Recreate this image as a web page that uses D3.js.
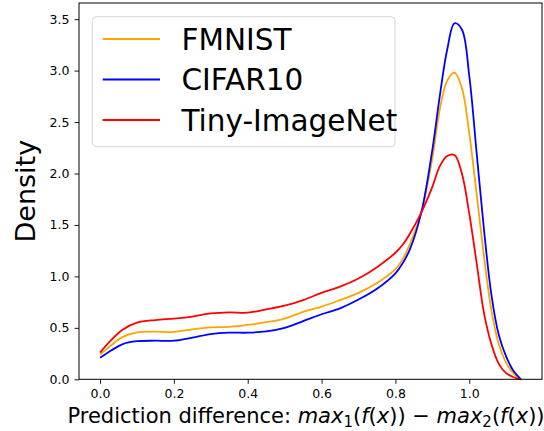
<!DOCTYPE html>
<html>
<head>
<meta charset="utf-8">
<script src="https://cdn.jsdelivr.net/npm/d3@7"></script>
<style>
  body { margin: 0; background: #fff; }
  text { font-family: "DejaVu Sans", sans-serif; fill: #000; }
</style>
</head>
<body>
<script>
var xs = [0, 0.03, 0.06, 0.1, 0.15, 0.2, 0.25, 0.3, 0.35, 0.4, 0.45, 0.5, 0.55, 0.6, 0.65, 0.7, 0.75, 0.8,
          0.82, 0.84, 0.87, 0.9, 0.92, 0.94, 0.96, 0.98, 1.0, 1.02, 1.04, 1.06, 1.08, 1.1, 1.12, 1.14];

var fmnist = [0.24, 0.33, 0.41, 0.455, 0.463, 0.46, 0.486, 0.505, 0.51, 0.528, 0.555, 0.59, 0.655, 0.706, 0.77, 0.84, 0.935, 1.07,
              1.17, 1.32, 1.62, 2.15, 2.62, 2.90, 2.98, 2.83, 2.39, 1.80, 1.19, 0.67, 0.34, 0.16, 0.055, 0];
var cifar10 = [0.21, 0.28, 0.34, 0.37, 0.375, 0.375, 0.405, 0.44, 0.453, 0.453, 0.465, 0.50, 0.565, 0.632, 0.69, 0.775, 0.88, 1.03,
               1.13, 1.27, 1.62, 2.23, 2.75, 3.20, 3.46, 3.40, 2.95, 2.20, 1.45, 0.82, 0.43, 0.22, 0.08, 0];
var tinyImageNet = [0.26, 0.38, 0.48, 0.55, 0.576, 0.59, 0.61, 0.64, 0.65, 0.647, 0.68, 0.715, 0.77, 0.84, 0.90, 0.98, 1.09, 1.23,
                    1.31, 1.42, 1.62, 1.87, 2.07, 2.17, 2.18, 2.00, 1.61, 1.13, 0.64, 0.34, 0.15, 0.06, 0.02, 0];

var seriesNames = ['FMNIST', 'CIFAR10', 'Tiny-ImageNet'];
var seriesValues = [fmnist, cifar10, tinyImageNet];
var seriesColors = ['orange', 'blue', 'red'];

var xTicks = [0, 0.2, 0.4, 0.6, 0.8, 1.0];
var yTicks = [0, 0.5, 1.0, 1.5, 2.0, 2.5, 3.0, 3.5];

var W = 544, H = 431;
// plot area edges (window.top is reserved, hence the prefix)
var pLeft = 79, pRight = 542, pTop = 3, pBottom = 379.3;

var x = d3.scaleLinear().domain([-0.057, 1.197]).range([pLeft, pRight]);
var y = d3.scaleLinear().domain([0, 3.657]).range([pBottom, pTop]);

var svg = d3.select('body').append('svg')
    .attr('width', W)
    .attr('height', H);

var line = d3.line()
    .x(function (d) { return x(d[0]); })
    .y(function (d) { return y(d[1]); })
    .curve(d3.curveCatmullRom.alpha(0.5));

seriesValues.forEach(function (vals, i) {
  svg.append('path')
      .datum(xs.map(function (v, j) { return [v, vals[j]]; }))
      .attr('d', line)
      .attr('fill', 'none')
      .attr('stroke', seriesColors[i])
      .attr('stroke-width', 1.8)
      .attr('stroke-linejoin', 'round');
});

// axes
var xAxis = svg.append('g')
    .attr('transform', 'translate(0,' + pBottom + ')')
    .call(d3.axisBottom(x).tickValues(xTicks).tickFormat(d3.format('.1f')).tickSizeOuter(0).tickSize(4.5).tickPadding(5));
var yAxis = svg.append('g')
    .attr('transform', 'translate(' + pLeft + ',0)')
    .call(d3.axisLeft(y).tickValues(yTicks).tickFormat(d3.format('.1f')).tickSizeOuter(0).tickSize(4.5).tickPadding(5));

[xAxis, yAxis].forEach(function (g) {
  g.select('.domain').remove();
  g.selectAll('text').style('font-size', '12.5px').style('font-family', '"DejaVu Sans", sans-serif').attr('fill', '#000');
  g.selectAll('line').attr('stroke', '#000').attr('stroke-width', 0.9);
});

// frame
svg.append('rect')
    .attr('x', pLeft).attr('y', pTop)
    .attr('width', pRight - pLeft).attr('height', pBottom - pTop)
    .attr('fill', 'none')
    .attr('stroke', '#000')
    .attr('stroke-width', 1);

// axis labels
svg.append('text')
    .attr('transform', 'translate(35,' + ((pTop + pBottom) / 2) + ') rotate(-90)')
    .attr('text-anchor', 'middle')
    .style('font-size', '27px')
    .text('Density');

var xl = svg.append('text')
    .attr('x', 306)
    .attr('y', 423)
    .attr('text-anchor', 'middle')
    .style('font-size', '21px');
var parts = [
  ['Prediction difference: ', 'normal', 0],
  ['max', 'italic', 0], ['1', 'normal', 1], ['(', 'normal', -1], ['f', 'italic', 0], ['(', 'normal', 0],
  ['x', 'italic', 0], ['))', 'normal', 0], [' \u2212 ', 'normal', 0],
  ['max', 'italic', 0], ['2', 'normal', 1], ['(', 'normal', -1], ['f', 'italic', 0], ['(', 'normal', 0],
  ['x', 'italic', 0], ['))', 'normal', 0]
];
parts.forEach(function (p) {
  var t = xl.append('tspan').text(p[0]).style('font-style', p[1]);
  if (p[2] === 1) t.attr('dy', 4).style('font-size', '15px');
  if (p[2] === -1) t.attr('dy', -4);
});

// legend
var lg = svg.append('g');
lg.append('rect')
    .attr('x', 92.3).attr('y', 16.7)
    .attr('width', 302.7).attr('height', 130)
    .attr('rx', 4)
    .attr('fill', '#fff')
    .attr('fill-opacity', 0.8)
    .attr('stroke', '#d5d5d5')
    .attr('stroke-width', 1);

seriesNames.forEach(function (name, i) {
  var cy = 39 + i * 40.5;
  lg.append('line')
      .attr('x1', 102.7).attr('x2', 160)
      .attr('y1', cy).attr('y2', cy)
      .attr('stroke', seriesColors[i])
      .attr('stroke-width', 1.8);
  lg.append('text')
      .attr('x', 181.5)
      .attr('y', cy + 10.5)
      .style('font-size', '29.5px')
      .text(name);
});
</script>
</body>
</html>
